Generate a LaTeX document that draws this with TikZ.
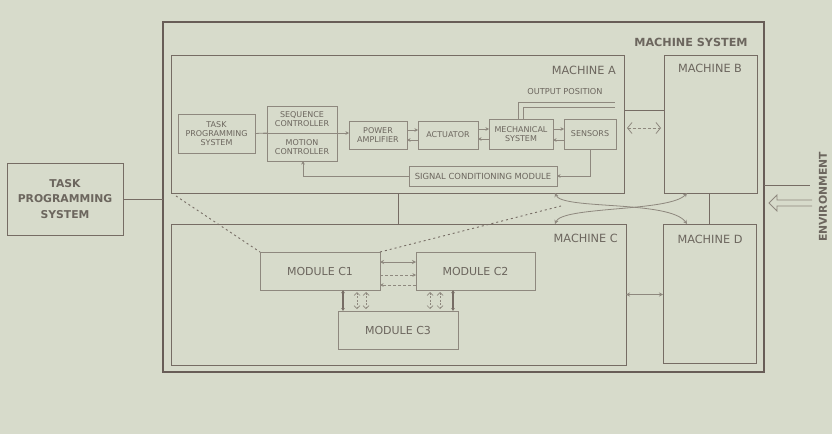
\documentclass[tikz,border=0pt]{standalone}
\usepackage{fontspec}
\setmainfont{DejaVu Sans}
\usetikzlibrary{arrows.meta}
\definecolor{bg}{RGB}{215,219,203}
\definecolor{ln}{RGB}{118,108,100}
\definecolor{frm}{RGB}{104,93,87}
\definecolor{lt}{RGB}{142,136,126}
\definecolor{tx}{RGB}{108,102,94}
\begin{document}
\begin{tikzpicture}[x=1pt,y=-1pt,
  box/.style={draw=ln, line width=0.9pt, inner sep=0pt, outer sep=0pt, anchor=north west},
  ibox/.style={draw=lt, line width=0.8pt, inner sep=0pt, outer sep=0pt, anchor=north west,
     align=center, text=tx, font=\fontsize{8}{9}\selectfont},
  mbox/.style={draw=ln, line width=0.9pt, inner sep=0pt, outer sep=0pt, anchor=north west,
     text=tx},
  lab/.style={text=tx, inner sep=0pt, font=\fontsize{11.3}{12}\selectfont},
  conn/.style={draw=ln, line width=0.8pt},
  iconn/.style={draw=lt, line width=0.8pt},
  sarr/.style={draw=lt, line width=0.7pt, -{Stealth[length=3.5pt,width=3.5pt]}},
  darr/.style={draw=lt, line width=0.8pt, {Stealth[length=4pt,width=4pt]}-{Stealth[length=4pt,width=4pt]}},
  harr/.style={draw=lt, line width=0.7pt, dashed, dash pattern=on 2pt off 1.5pt,
     {Straight Barb[open,length=3pt,width=6pt]}-{Straight Barb[open,length=3pt,width=6pt]}},
  bigharr/.style={draw=lt, line width=0.8pt, dashed, dash pattern=on 3pt off 2pt,
     {Straight Barb[open,length=4.5pt,width=11pt]}-{Straight Barb[open,length=4.5pt,width=11pt]}},
  varr/.style={draw=ln, line width=1.4pt, {Latex[length=3pt,width=4pt]}-{Latex[length=3pt,width=4pt]}},
  dsh/.style={draw=ln, line width=0.9pt, dash pattern=on 2pt off 3pt}
]
\fill[bg] (0,0) rectangle (832,434);
\useasboundingbox (0,0) rectangle (832,434);

% outer frame
\node[draw=frm, line width=2.6pt, inner sep=0pt, outer sep=0pt, anchor=north west,
      minimum width=601pt, minimum height=350pt] (frame) at (163,22) {};
\node[lab, font=\bfseries\fontsize{11.2}{12}\selectfont] (msys) at (691,42) {MACHINE SYSTEM};

% task programming system (outside)
\node[box, minimum width=116pt, minimum height=72pt, align=center, text=tx,
      font=\bfseries\fontsize{10.8}{15.5}\selectfont] (tps) at (7,163) {TASK\\PROGRAMMING\\SYSTEM};

% machines
\node[mbox, minimum width=453pt, minimum height=138pt] (ma) at (171,55) {};
\node[mbox, minimum width=93pt, minimum height=138pt] (mb) at (664,55) {};
\node[mbox, minimum width=455pt, minimum height=141pt] (mc) at (171,224) {};
\node[mbox, minimum width=93pt, minimum height=139pt] (md) at (663,224) {};
\node[lab, anchor=east] (la) at (616,70) {MACHINE A};
\node[lab] (lb) at (710,68) {MACHINE B};
\node[lab, anchor=east] (lc) at (618,238) {MACHINE C};
\node[lab] (ld) at (710,239) {MACHINE D};

% machine A internals
\node[ibox, minimum width=77pt, minimum height=39pt] (tps2) at (178,114) {TASK\\PROGRAMMING\\SYSTEM};
\node[ibox, minimum width=70pt, minimum height=27pt] (seq) at (267,106) {SEQUENCE\\CONTROLLER};
\node[ibox, minimum width=70pt, minimum height=28pt] (mot) at (267,133) {MOTION\\CONTROLLER};
\node[ibox, minimum width=58pt, minimum height=28pt] (pamp) at (349,121) {POWER\\AMPLIFIER};
\node[ibox, minimum width=60pt, minimum height=28pt] (act) at (418,121) {ACTUATOR};
\node[ibox, minimum width=64pt, minimum height=30pt] (mech) at (489,119) {MECHANICAL\\SYSTEM};
\node[ibox, minimum width=52pt, minimum height=30pt] (sens) at (564,119) {SENSORS};
\node[ibox, minimum width=148pt, minimum height=20pt, font=\fontsize{8.4}{9}\selectfont] (sig) at (409,166) {SIGNAL CONDITIONING MODULE};
\node[text=tx, inner sep=0pt, font=\fontsize{8.2}{9}\selectfont] (optxt) at (565,92) {OUTPUT POSITION};

\draw[iconn] (tps2.east) -- (seq.south west);
\draw[iconn] ([xshift=-4pt]seq.south west) -- ([xshift=4pt]seq.south east);
\draw[sarr] ([xshift=4pt]seq.south east) -- (seq.south east -| pamp.west);
\draw[sarr] ([yshift=5pt]pamp.east) -- ++(11,0);
\draw[sarr] ([yshift=-5pt]act.west) -- ++(-11,0);
\draw[sarr] ([yshift=6pt]act.east) -- ++(11,0);
\draw[sarr] ([yshift=-5pt]mech.west) -- ++(-11,0);
\draw[sarr] ([yshift=5pt]mech.east) -- ++(11,0);
\draw[sarr] ([yshift=-6pt]sens.west) -- ++(-11,0);
\coordinate (sdown) at ([xshift=26pt]sens.south west);
\draw[sarr] (sdown) |- (sig.east);
\coordinate (mup) at ([xshift=36pt]mot.south west);
\draw[sarr] (sig.west) -| (mup);

% output position (double line)
\coordinate (op1) at (615,102);
\coordinate (op2) at (615,107);
\draw[iconn] ([xshift=-2.5pt]mech.north) |- (op1);
\draw[iconn] ([xshift=2.5pt]mech.north) |- (op2);

% A <-> B
\draw[conn] ([yshift=14pt]ma.east) -- ([yshift=14pt]mb.west);
\draw[bigharr] ([yshift=-4pt,xshift=3pt]ma.east) -- ([yshift=-4pt,xshift=-3pt]mb.west);

% A-C and B-D links
\draw[conn] ([xshift=227pt]ma.south west) -- ([xshift=227pt]mc.north west);
\draw[conn] ([xshift=45pt]mb.south west) -- ([xshift=46pt]md.north west);

% crossing links
\coordinate (aBot) at ([xshift=-69pt]ma.south east);
\coordinate (cTop) at ([xshift=-71pt]mc.north east);
\coordinate (bBot) at ([xshift=23pt]mb.south west);
\coordinate (dTop) at ([xshift=24pt]md.north west);
\draw[darr] (aBot) .. controls (562,210) and (670,200) .. (dTop);
\draw[darr] (cTop) .. controls (562,206) and (670,212) .. (bBot);

% C <-> D
\draw[darr] (mc.east) -- (mc.east -| md.west);

% task programming links
\draw[conn] (tps.east) -- (tps.east -| frame.west);
\coordinate (tpsd) at (176,196);
\coordinate (c1d) at (561,206);

% modules of machine C
\node[ibox, minimum width=120pt, minimum height=38pt, font=\fontsize{11}{12}\selectfont] (c1) at (260,252) {MODULE C1};
\node[ibox, minimum width=119pt, minimum height=38pt, font=\fontsize{11}{12}\selectfont] (c2) at (416,252) {MODULE C2};
\node[ibox, minimum width=120pt, minimum height=38pt, font=\fontsize{11}{12}\selectfont] (c3) at (338,311) {MODULE C3};

\draw[dsh] (tpsd) -- (c1.north west);
\draw[dsh] (c1.north east) -- (c1d);

\draw[darr] ([yshift=9pt]c1.east) -- ([yshift=9pt]c2.west);
\draw[sarr, dashed, dash pattern=on 3pt off 2pt] ([yshift=-4pt]c1.east) -- ([yshift=-4pt]c2.west);
\draw[sarr, dashed, dash pattern=on 3pt off 2pt] ([yshift=-14pt]c2.west) -- ([yshift=-14pt]c1.east);

\coordinate (v1) at ([xshift=83pt]c1.south west);
\coordinate (v2) at ([xshift=97pt]c1.south west);
\coordinate (v3) at ([xshift=106pt]c1.south west);
\coordinate (v4) at ([xshift=14pt]c2.south west);
\coordinate (v5) at ([xshift=24pt]c2.south west);
\coordinate (v6) at ([xshift=37pt]c2.south west);
\draw[varr] (v1) -- (v1 |- c3.north);
\draw[harr] ([yshift=-2pt]v2) -- ([yshift=2pt]v2 |- c3.north);
\draw[harr] ([yshift=-2pt]v3) -- ([yshift=2pt]v3 |- c3.north);
\draw[harr] ([yshift=-2pt]v4) -- ([yshift=2pt]v4 |- c3.north);
\draw[harr] ([yshift=-2pt]v5) -- ([yshift=2pt]v5 |- c3.north);
\draw[varr] (v6) -- (v6 |- c3.north);

% environment
\coordinate (env1) at (810,185);
\draw[conn] ([yshift=12pt]frame.east) -- (env1);
\draw[draw=lt, line width=0.8pt, fill=bg] (812,200) -- (777,200) -- (777,195) -- (769,203)
   -- (777,211) -- (777,206) -- (812,206);
\node[text=tx, inner sep=0pt, rotate=90, font=\bfseries\fontsize{10.8}{12}\selectfont] (env) at (823,197) {ENVIRONMENT};
\end{tikzpicture}
\end{document}
